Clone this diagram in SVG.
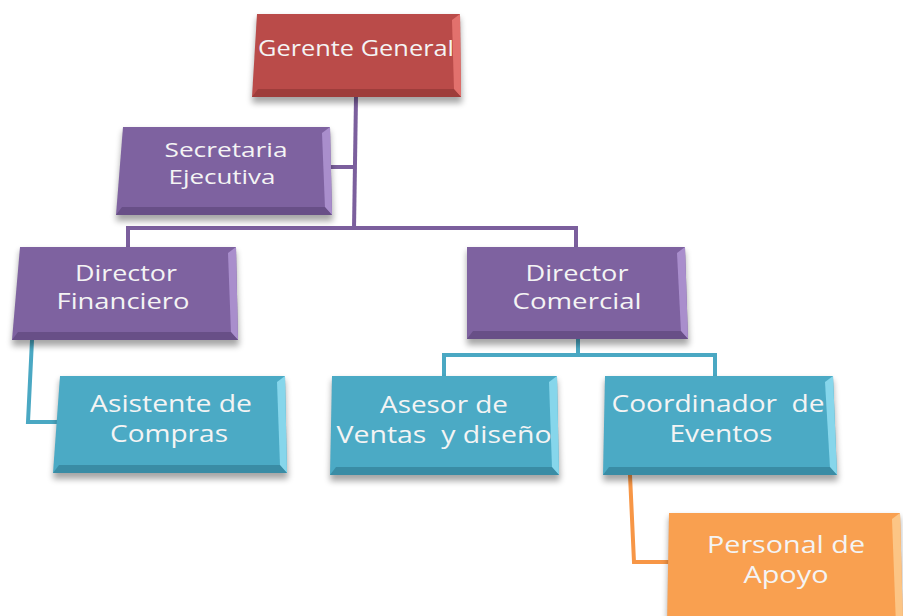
<svg xmlns="http://www.w3.org/2000/svg" width="903" height="616" viewBox="0 0 903 616">
<defs>
<filter id="sh" x="-10%" y="-10%" width="120%" height="130%"><feGaussianBlur stdDeviation="3"/></filter>
</defs>
<style>
.sh{fill:#000;opacity:0.35;filter:url(#sh)}
.t{font-family:"Open Sans","DejaVu Sans",sans-serif;fill:#F4F4F4;text-anchor:middle}
.cp{stroke:#7B5F9D;stroke-width:4;fill:none}
.ct{stroke:#4AA8C3;stroke-width:4;fill:none}
.co{stroke:#F79646;stroke-width:4;fill:none}
.red .f{fill:#BA4B49}.red .r{fill:#E2716D}.red .b{fill:#9E3D3B}
.pur .f{fill:#7E62A0}.pur .r{fill:#A98ECC}.pur .b{fill:#684F87}
.tea .f{fill:#4BAAC5}.tea .r{fill:#86D6EB}.tea .b{fill:#3A8CA5}
.ora .f{fill:#F9A050}.ora .r{fill:#FCC585}.ora .b{fill:#DE893B}
</style>
<rect width="903" height="616" fill="#FFFFFF"/>
<g id="connectors">
<path class="cp" d="M356 97 L354 229"/>
<path class="cp" d="M330 167 L354 167"/>
<path class="cp" d="M128 247 L128 228 L576 228 L576 247"/>
<path class="ct" d="M578 339 L578 355"/>
<path class="ct" d="M444 376 L444 355 L715 355 L715 376"/>
<path class="ct" d="M32 340 L28 422 L58 422"/>
<path class="co" d="M630 475 L634 562 L670 562"/>
</g>
<g id="gerente" class="red">
<polygon class="sh" points="257,18 460,18 462,103 252,103"/>
<polygon class="f" points="257,14 460,14 461,97 252,97"/>
<polygon class="r" points="452,20 460,14 461,97 454,90"/>
<polygon class="b" points="252,97 461,97 454,89 258,89"/>
<text class="t" x="356" y="56" font-size="22" textLength="196" lengthAdjust="spacingAndGlyphs">Gerente General</text>
</g>
<g id="secretaria" class="pur">
<polygon class="sh" points="123,131 330,131 333,221 116,221"/>
<polygon class="f" points="123,127 330,127 332,215 116,215"/>
<polygon class="r" points="322,133 330,127 332,215 325,208"/>
<polygon class="b" points="116,215 332,215 325,207 122,207"/>
<text class="t" x="226" y="157" font-size="20" textLength="123" lengthAdjust="spacingAndGlyphs">Secretaria</text>
<text class="t" x="222" y="184" font-size="20" textLength="107" lengthAdjust="spacingAndGlyphs">Ejecutiva</text>
</g>
<g id="dir-financiero" class="pur">
<polygon class="sh" points="20,251 236,251 239,346 12,346"/>
<polygon class="f" points="20,247 236,247 238,340 12,340"/>
<polygon class="r" points="228,253 236,247 238,340 231,333"/>
<polygon class="b" points="12,340 238,340 231,332 18,332"/>
<text class="t" x="126" y="281" font-size="21" textLength="102" lengthAdjust="spacingAndGlyphs">Director</text>
<text class="t" x="123" y="309" font-size="21" textLength="133" lengthAdjust="spacingAndGlyphs">Financiero</text>
</g>
<g id="dir-comercial" class="pur">
<polygon class="sh" points="467,251 685,251 689,345 467,345"/>
<polygon class="f" points="467,247 685,247 688,339 467,339"/>
<polygon class="r" points="677,253 685,247 688,339 681,332"/>
<polygon class="b" points="467,339 688,339 681,331 473,331"/>
<text class="t" x="577" y="281" font-size="21" textLength="103" lengthAdjust="spacingAndGlyphs">Director</text>
<text class="t" x="577" y="309" font-size="21" textLength="129" lengthAdjust="spacingAndGlyphs">Comercial</text>
</g>
<g id="asistente" class="tea">
<polygon class="sh" points="60,380 285,380 288,479 53,479"/>
<polygon class="f" points="60,376 285,376 287,473 53,473"/>
<polygon class="r" points="277,382 285,376 287,473 280,466"/>
<polygon class="b" points="53,473 287,473 280,465 59,465"/>
<text class="t" x="171" y="412" font-size="24" textLength="162" lengthAdjust="spacingAndGlyphs">Asistente de</text>
<text class="t" x="169" y="442" font-size="24" textLength="118" lengthAdjust="spacingAndGlyphs">Compras</text>
</g>
<g id="asesor" class="tea">
<polygon class="sh" points="332,380 557,380 560,481 330,481"/>
<polygon class="f" points="332,376 557,376 559,475 330,475"/>
<polygon class="r" points="549,382 557,376 559,475 552,468"/>
<polygon class="b" points="330,475 559,475 552,467 336,467"/>
<text class="t" x="444" y="413" font-size="24" textLength="128" lengthAdjust="spacingAndGlyphs">Asesor de</text>
<text class="t" x="444" y="443" font-size="24" xml:space="preserve" textLength="215" lengthAdjust="spacingAndGlyphs">Ventas  y diseño</text>
</g>
<g id="coordinador" class="tea">
<polygon class="sh" points="605,380 833,380 838,481 603,481"/>
<polygon class="f" points="605,376 833,376 837,475 603,475"/>
<polygon class="r" points="825,382 833,376 837,475 830,468"/>
<polygon class="b" points="603,475 837,475 830,467 609,467"/>
<text class="t" x="718" y="412" font-size="24" xml:space="preserve" textLength="213" lengthAdjust="spacingAndGlyphs">Coordinador  de</text>
<text class="t" x="721" y="442" font-size="24" textLength="103" lengthAdjust="spacingAndGlyphs">Eventos</text>
</g>
<g id="personal" class="ora">
<polygon class="sh" points="669,517 900,517 903,630 667,630"/>
<polygon class="f" points="669,513 900,513 903,625 667,625"/>
<polygon class="r" points="892,519 900,513 903,625 896,625"/>
<text class="t" x="786" y="553" font-size="24" textLength="158" lengthAdjust="spacingAndGlyphs">Personal de</text>
<text class="t" x="786" y="583" font-size="24" textLength="85" lengthAdjust="spacingAndGlyphs">Apoyo</text>
</g>
</svg>
